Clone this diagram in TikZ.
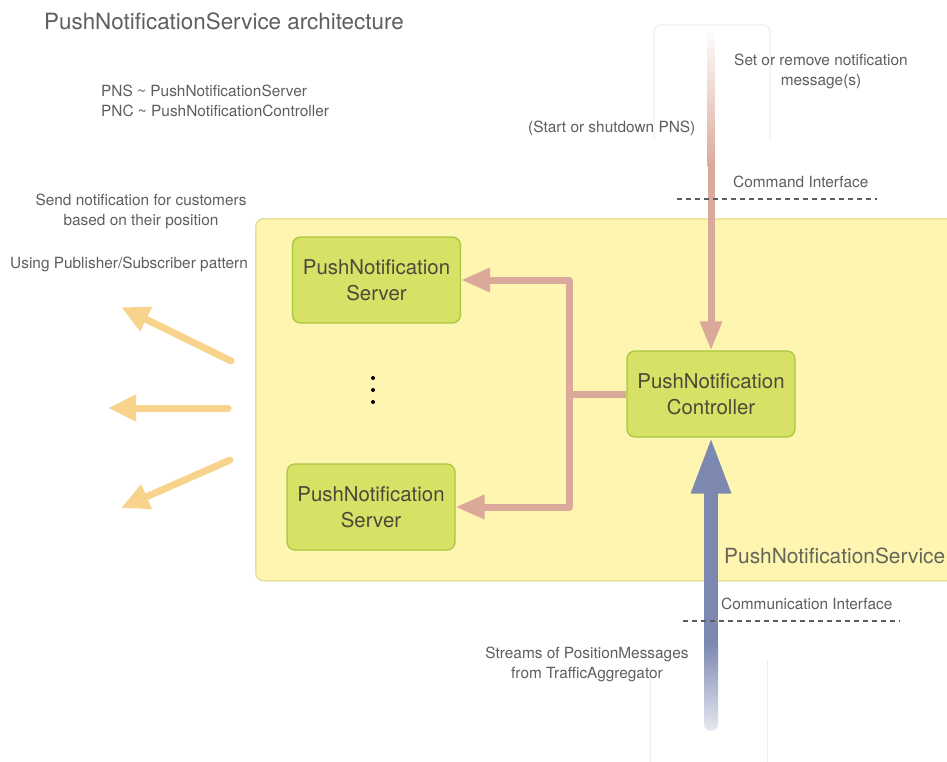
\documentclass[tikz,border=0pt]{standalone}
\usepackage{fontspec}
\setmainfont{TeX Gyre Heros}
\usetikzlibrary{arrows.meta,calc}
\definecolor{pinkc}{HTML}{DBA99A}
\definecolor{areac}{HTML}{FEF6B0}
\definecolor{areab}{HTML}{E9E09A}
\definecolor{boxf}{HTML}{D6E166}
\definecolor{boxb}{HTML}{A9C640}
\definecolor{yarr}{HTML}{F7D38C}
\definecolor{bluec}{HTML}{7D88B1}
\definecolor{bluel}{HTML}{E6E9F1}
\definecolor{txt}{HTML}{5E5E5E}
\definecolor{boxt}{HTML}{4A4A3A}
\definecolor{faint}{HTML}{EDEDED}
\tikzset{
  note/.style={text=txt,font=\fontsize{15.4}{20}\selectfont,inner sep=0pt},
  comp/.style={draw=boxb,fill=boxf,line width=1.3pt,rounded corners=8pt,
    minimum width=168pt,minimum height=86pt,align=center,text=boxt,
    font=\fontsize{20.4}{26}\selectfont,inner sep=0pt},
  pinkline/.style={draw=pinkc,line width=7pt,line join=round},
  pinkarrow/.style={pinkline,-{Triangle[length=29pt,width=23pt]}},
  yarrow/.style={draw=yarr,line width=7pt,line cap=round,-{Triangle[length=28pt,width=25pt]}},
  iface/.style={draw=txt,line width=1.1pt,dash pattern=on 5pt off 4pt},
  faintline/.style={draw=faint,line width=1pt}
}
\begin{document}
\begin{tikzpicture}[x=1pt,y=-1pt]
\clip (0,0) rectangle (947,762);
\fill[white] (0,0) rectangle (947,762);

% faint frames
\draw[faintline,rounded corners=6pt] (654,140) -- (654,25) -- (770,25) -- (770,140);
\draw[faintline] (650,673) -- (650,762);
\draw[faintline] (767,660) -- (767,762);

% title and notes
\node[anchor=base west,text=txt,font=\fontsize{22.4}{26}\selectfont,inner sep=0pt] (title) at (44,30) {PushNotificationService architecture};
\node[note,anchor=base west] (pns) at (101,97) {PNS \textasciitilde{} PushNotificationServer};
\node[note,anchor=base west] (pnc) at (101,117) {PNC \textasciitilde{} PushNotificationController};
\node[note,align=center,anchor=base] (send) at (141,225) {Send notification for customers\\based on their position};
\node[note,anchor=base west] (using) at (10,268) {Using Publisher/Subscriber pattern};

% service area
\node[draw=areab,fill=areac,line width=1.5pt,rounded corners=8pt,minimum width=720pt,minimum height=362pt,anchor=north west,inner sep=0pt] (area) at (255,218) {};
\node[anchor=base west,text=boxt!85,font=\fontsize{20.9}{24}\selectfont,inner sep=0pt] (svclabel) at (724,563) {PushNotificationService};

% components
\node[comp] (srv1) at (376.5,280) {PushNotification\\Server};
\node[comp] (srv2) at (371,507) {PushNotification\\Server};
\node[comp] (ctrl) at (711,394) {PushNotification\\Controller};

\fill (373,378) circle (2pt) (373,390) circle (2pt) (373,402) circle (2pt);

% pink distribution bus
\coordinate (bus) at (569,394);
\draw[pinkline] (ctrl.west) -- (bus);
\draw[pinkarrow] (bus) |- (srv1.east);
\draw[pinkarrow] (bus) |- (srv2.east);

% command arrow
\coordinate (cmdtop) at (711,27);
\shade[top color=white,bottom color=pinkc] ($(cmdtop)+(-3.5,0)$) rectangle ($(cmdtop)+(3.5,140)$);
\fill[pinkc] ($(cmdtop)+(-3.5,139.5)$) rectangle (714.5,322);
\fill[pinkc] ($(ctrl.north)+(-11.5,-29)$) -- ($(ctrl.north)+(11.5,-29)$) -- ($(ctrl.north)+(0,-1)$) -- cycle;

% communication arrow
\coordinate (combot) at (711,724);
\shade[top color=bluec,bottom color=bluel] ($(combot)+(-7,-80)$) -- ($(combot)+(-7,0)$) arc (180:0:7) -- ($(combot)+(7,-80)$) -- cycle;
\fill[bluec] ($(combot)+(-7,-79.5)$) rectangle ($(ctrl.south)+(7,54)$);
\fill[bluec] ($(ctrl.south)+(-20.5,56)$) -- ($(ctrl.south)+(20.5,56)$) -- ($(ctrl.south)+(0,2)$) -- cycle;

% interfaces
\node[note,anchor=base,align=center] (setrm) at (821,86) {Set or remove notification\\message(s)};
\node[note,anchor=base west] (startpns) at (528,133) {(Start or shutdown PNS)};
\node[note,anchor=base west] (cmdif) at (733,188) {Command Interface};
\draw[iface] (677,199) -- (877,199);
\node[note,anchor=base west] (comif) at (721,609) {Communication Interface};
\draw[iface] (683,621) -- (900,621);
\node[note,anchor=base,align=center] (streams) at (587,678) {Streams of PositionMessages\\from TrafficAggregator};

% outgoing notifications
\coordinate (o1s) at (231,361);
\coordinate (o1e) at (121,307);
\coordinate (o2s) at (228,408);
\coordinate (o2e) at (108,408);
\coordinate (o3s) at (230,460);
\coordinate (o3e) at (121,508);
\draw[yarrow] (o1s) -- (o1e);
\draw[yarrow] (o2s) -- (o2e);
\draw[yarrow] (o3s) -- (o3e);
\end{tikzpicture}
\end{document}
